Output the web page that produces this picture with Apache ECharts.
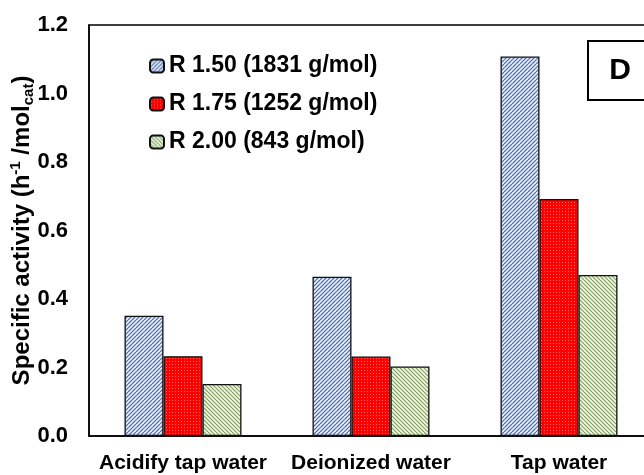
<!DOCTYPE html>
<html><head><meta charset="utf-8">
<script src="https://cdn.jsdelivr.net/npm/echarts@6/dist/echarts.min.js"></script>
<style>html,body{margin:0;padding:0;background:#fff}#c{width:644px;height:475px}</style>
</head><body><div id="c"></div>
<script>
const categories = ['Acidify tap water', 'Deionized water', 'Tap water'];
const seriesNames = ['R 1.50 (1831 g/mol)', 'R 1.75 (1252 g/mol)', 'R 2.00 (843 g/mol)'];
const r150 = [0.351, 0.465, 1.108];
const r175 = [0.233, 0.232, 0.692];
const r200 = [0.152, 0.203, 0.470];
const yTicks = [0, 0.2, 0.4, 0.6, 0.8, 1.0, 1.2];

function stripes(bg, fg, dir) {
  const c = document.createElement('canvas');
  c.width = 8; c.height = 8;
  const g = c.getContext('2d');
  g.fillStyle = bg; g.fillRect(0, 0, 8, 8);
  g.strokeStyle = fg; g.lineWidth = 1.2;
  for (let i = -2; i <= 3; i++) {
    g.beginPath();
    if (dir > 0) { g.moveTo(i * 4, 8); g.lineTo(i * 4 + 8, 0); }
    else { g.moveTo(i * 4, 0); g.lineTo(i * 4 + 8, 8); }
    g.stroke();
  }
  return c;
}
function dots(bg, fg) {
  const c = document.createElement('canvas');
  c.width = 3; c.height = 3;
  const g = c.getContext('2d');
  g.fillStyle = bg; g.fillRect(0, 0, 3, 3);
  g.fillStyle = fg; g.fillRect(1, 1, 1, 1);
  return c;
}
const pats = [
  { image: stripes('#e4ecf8', '#4d6cae', 1), repeat: 'repeat' },
  { image: dots('#ff0000', '#ff6a6a'), repeat: 'repeat' },
  { image: stripes('#f0f5e6', '#86a462', -1), repeat: 'repeat' }
];
const vals = [r150, r175, r200];
const font = 'Arial, "Liberation Sans", sans-serif';

const chart = echarts.init(document.getElementById('c'), null, { renderer: 'canvas' });
chart.setOption({
  animation: false,
  grid: { left: 89, top: 25, width: 564, height: 411, show: true, borderColor: '#000', borderWidth: 1.5,
    outerBoundsMode: 'none', containLabel: false },
  legend: {
    orient: 'vertical', left: 149, top: 54, padding: 0, itemWidth: 14, itemHeight: 13, itemGap: 14,
    data: seriesNames,
    textStyle: { fontFamily: font, fontWeight: 'bold', fontSize: 23, lineHeight: 24, color: '#000' }
  },
  xAxis: {
    type: 'category', data: categories,
    axisLine: { lineStyle: { color: '#000', width: 1.5 } },
    axisTick: { show: false },
    axisLabel: { interval: 0, hideOverlap: false, margin: 17, fontFamily: font, fontWeight: 'bold', fontSize: 21, color: '#000' }
  },
  yAxis: {
    type: 'value', min: 0, max: 1.2, interval: 0.2,
    splitLine: { show: false },
    axisLine: { show: true, lineStyle: { color: '#000', width: 1.5 } },
    axisTick: { show: false },
    axisLabel: { margin: 21, fontFamily: font, fontWeight: 'bold', fontSize: 22, color: '#000',
      formatter: v => v.toFixed(1) },
    name: 'Specific activity (h{sup|-1} /mol{sub|cat})',
    nameLocation: 'middle', nameGap: 53, nameMoveOverlap: false,
    nameTextStyle: {
      fontFamily: font, fontWeight: 'bold', fontSize: 24, color: '#000', lineHeight: 28,
      rich: {
        sup: { fontFamily: font, fontWeight: 'bold', fontSize: 15, verticalAlign: 'top', lineHeight: 28 },
        sub: { fontFamily: font, fontWeight: 'bold', fontSize: 15, verticalAlign: 'bottom', lineHeight: 28 }
      }
    }
  },
  series: vals.map((d, i) => ({
    name: seriesNames[i], type: 'bar', data: d, barWidth: 39, barGap: '0%',
    itemStyle: { color: pats[i], borderColor: '#111', borderWidth: 1.3 }
  })),
  graphic: [
    { type: 'rect', left: 587, top: 40, shape: { width: 80, height: 59 },
      style: { fill: '#fff', stroke: '#000', lineWidth: 2 } },
    { type: 'text', x: 620, y: 71, style: { text: 'D', fontFamily: font, fontWeight: 'bold', fontSize: 30, fill: '#000', align: 'center', verticalAlign: 'middle' } }
  ]
});
</script></body></html>
